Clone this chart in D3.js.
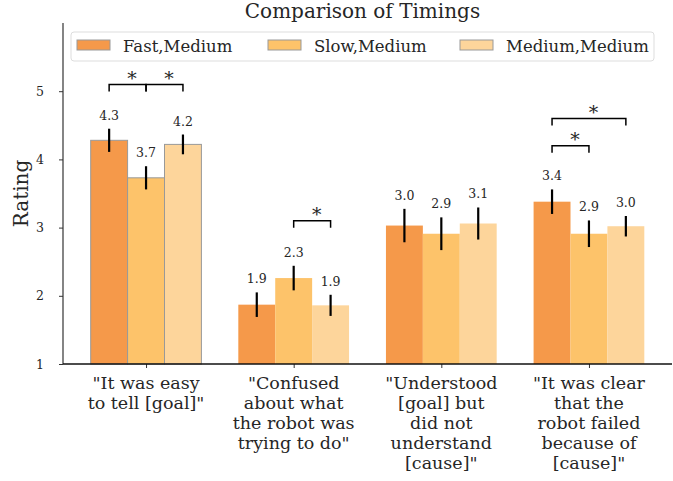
<!DOCTYPE html>
<html>
<head>
<meta charset="utf-8">
<script src="https://cdn.jsdelivr.net/npm/d3@7"></script>
<style>
  body { margin: 0; background: #fff; }
  text { font-family: "DejaVu Serif", serif; fill: #262626; }
</style>
</head>
<body>
<svg id="chart" width="673" height="481"></svg>
<script>
// data
var categories = [
  ['"It was easy', 'to tell [goal]"'],
  ['"Confused', 'about what', 'the robot was', 'trying to do"'],
  ['"Understood', '[goal] but', 'did not', 'understand', '[cause]"'],
  ['"It was clear', 'that the', 'robot failed', 'because of', '[cause]"']
];
var seriesNames = ['Fast,Medium', 'Slow,Medium', 'Medium,Medium'];
var seriesColors = ['#f5994a', '#fdc36a', '#fdd59b'];
var fastVals = [4.28, 1.87, 3.03, 3.38];
var slowVals = [3.73, 2.26, 2.91, 2.91];
var medVals = [4.22, 1.86, 3.06, 3.02];
var fastErr = [0.17, 0.18, 0.245, 0.18];
var slowErr = [0.17, 0.18, 0.24, 0.195];
var medErr = [0.145, 0.155, 0.235, 0.15];
var yTicks = [1, 2, 3, 4, 5];
// significance brackets: group, bar a, bar b, height
var sigGroup = [0, 0, 1, 3, 3];
var sigA = [0, 1, 1, 0, 0];
var sigB = [1, 2, 2, 1, 2];
var sigY = [5.1, 5.1, 3.1, 4.2, 4.6];

var values = [fastVals, slowVals, medVals];
var errs = [fastErr, slowErr, medErr];

var svg = d3.select('#chart');
var mLeft = 63, mRight = 672, mTop = 23, mBottom = 364;

var x = d3.scaleLinear().domain([-0.5625, 3.5625]).range([mLeft, mRight]);
var y = d3.scaleLinear().domain([1, 6]).range([mBottom, mTop]);
var barW = 0.25;

function barX(g, s) { return g + (s - 1) * barW; }

// bars
for (var s = 0; s < 3; s++) {
  svg.append('g').selectAll('rect')
    .data(values[s])
    .enter().append('rect')
    .attr('x', function(d, g) { return x(barX(g, s) - barW / 2); })
    .attr('width', x(barW) - x(0))
    .attr('y', function(d) { return y(d); })
    .attr('height', function(d) { return y(1) - y(d); })
    .style('fill', seriesColors[s])
    .style('stroke', function(d, g) { return g == 0 ? '#999' : 'none'; })
    .style('stroke-width', 1);
}

// error bars and value labels
for (var s = 0; s < 3; s++) {
  var gE = svg.append('g');
  values[s].forEach(function(v, g) {
    var cx = x(barX(g, s));
    var e = errs[s][g];
    gE.append('line')
      .attr('x1', cx).attr('x2', cx)
      .attr('y1', y(v - e)).attr('y2', y(v + e))
      .style('stroke', '#000').style('stroke-width', 2.2);
    gE.append('text')
      .attr('x', cx).attr('y', y(v + e) - 9)
      .attr('text-anchor', 'middle')
      .style('font-size', '12.5px')
      .text(v.toFixed(1));
  });
}

// axes
var yAxis = d3.axisLeft(y).tickValues(yTicks).tickSize(4).tickPadding(15).tickFormat(d3.format('d'));
var gy = svg.append('g').attr('transform', 'translate(' + mLeft + ',0)').call(yAxis);
gy.select('.domain').remove();
gy.selectAll('text').style('font-size', '12.5px').style('font-family', '"DejaVu Serif", serif');
gy.selectAll('line').style('stroke', '#333');
svg.append('line').attr('x1', mLeft).attr('x2', mLeft).attr('y1', mTop).attr('y2', mBottom)
  .style('stroke', '#333').style('stroke-width', 1.2);

var xAxis = d3.axisBottom(x).tickValues([0, 1, 2, 3]).tickSize(4).tickFormat('');
var gx = svg.append('g').attr('transform', 'translate(0,' + mBottom + ')').call(xAxis);
gx.select('.domain').remove();
gx.selectAll('line').style('stroke', '#333');
svg.append('line').attr('x1', mLeft).attr('x2', mRight).attr('y1', mBottom).attr('y2', mBottom)
  .style('stroke', '#111').style('stroke-width', 1.5);

// category labels
categories.forEach(function(lines, g) {
  var t = svg.append('text')
    .attr('x', x(g)).attr('y', 389)
    .attr('text-anchor', 'middle')
    .style('font-size', '17.5px');
  lines.forEach(function(l, i) {
    t.append('tspan').attr('x', x(g)).attr('dy', i == 0 ? 0 : 20).text(l);
  });
});

// significance brackets
for (var k = 0; k < sigY.length; k++) {
  var xa = x(barX(sigGroup[k], sigA[k]));
  var xb = x(barX(sigGroup[k], sigB[k]));
  var yb = y(sigY[k]);
  svg.append('path')
    .attr('d', 'M' + xa + ',' + (yb + 7) + 'V' + yb + 'H' + xb + 'V' + (yb + 7))
    .style('fill', 'none').style('stroke', '#000').style('stroke-width', 1.5);
  svg.append('text')
    .attr('x', (xa + xb) / 2 + 4.5).attr('y', yb + 0.5)
    .attr('text-anchor', 'middle')
    .style('font-size', '19px')
    .text('*');
}

// title and y label
svg.append('text')
  .attr('x', (mLeft + mRight) / 2 - 5).attr('y', 18)
  .attr('text-anchor', 'middle')
  .style('font-size', '20px')
  .text('Comparison of Timings');

svg.append('text')
  .attr('transform', 'translate(28,' + ((mTop + mBottom) / 2) + ') rotate(-90)')
  .attr('text-anchor', 'middle')
  .style('font-size', '20px')
  .text('Rating');

// legend
var legend = svg.append('g');
legend.append('rect')
  .attr('x', 71).attr('y', 32).attr('width', 583).attr('height', 29).attr('rx', 3)
  .style('fill', '#fff').style('stroke', '#ddd').style('stroke-width', 1);
var legX = [77, 268, 460];
seriesNames.forEach(function(n, i) {
  legend.append('rect')
    .attr('x', legX[i]).attr('y', 40).attr('width', 33).attr('height', 10)
    .style('fill', seriesColors[i]).style('stroke', '#999').style('stroke-width', 1);
  legend.append('text')
    .attr('x', legX[i] + 46).attr('y', 51.5)
    .style('font-size', '16.5px')
    .text(n);
});
</script>
</body>
</html>
